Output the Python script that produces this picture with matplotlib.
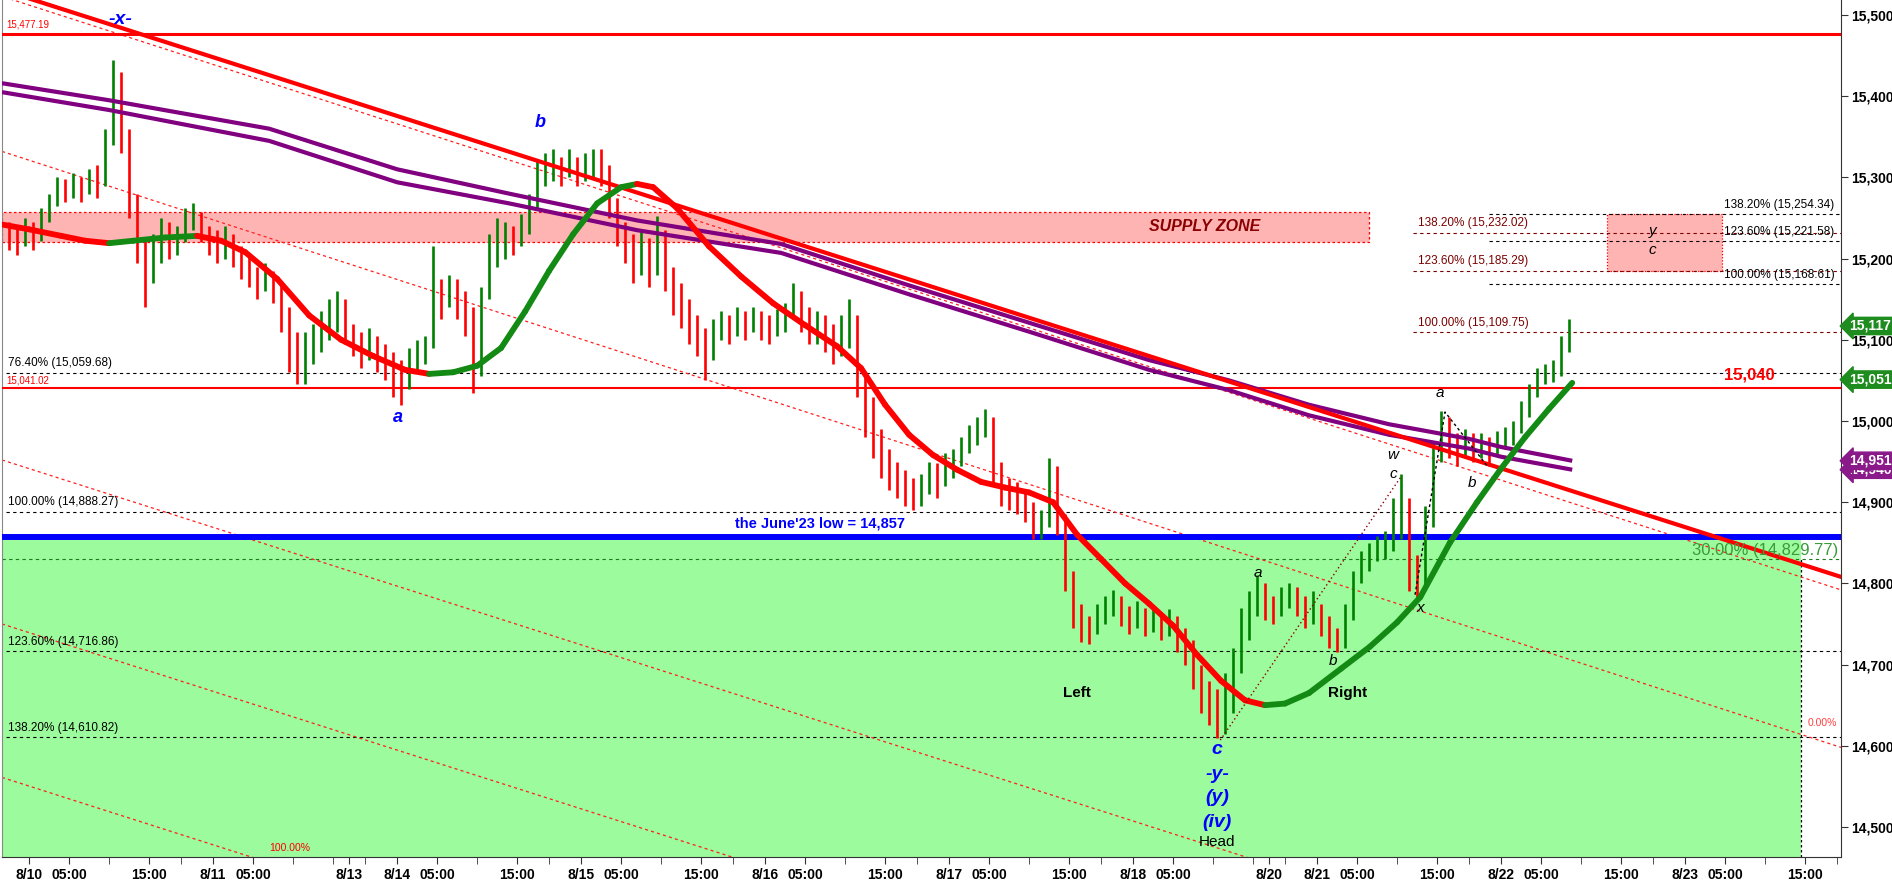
import matplotlib
matplotlib.use('Agg')
import matplotlib.pyplot as plt
import numpy as np
from matplotlib.transforms import blended_transform_factory
from matplotlib.patches import Rectangle

plt.rcParams['font.family'] = ['Liberation Sans', 'DejaVu Sans']

# ---------------- data ----------------
# hourly bars; x unit = trading hour, 0 = 8/10 00:00 (weekends removed)
bar_start = -3
closes = [
    15228, 15220, 15238, 15225, 15250, 15272, 15288, 15282, 15292, 15285,
    15300, 15295, 15345, 15405, 15350, 15270, 15215, 15175, 15205, 15235,
    15215, 15228, 15245, 15255, 15232, 15222, 15215, 15225, 15205, 15195,
    15180, 15170, 15178, 15160, 15130, 15090, 15070, 15085, 15100, 15110,
    15125, 15140, 15115, 15100, 15085, 15095, 15080, 15070, 15055, 15045,
    15070, 15080, 15090, 15160, 15150, 15165, 15145, 15130, 15060, 15150,
    15195, 15215, 15225, 15220, 15235, 15265, 15300, 15310, 15315, 15305,
    15318, 15300, 15315, 15320, 15310, 15270, 15235, 15215, 15195, 15215,
    15190, 15230, 15185, 15160, 15140, 15120, 15105, 15090, 15115, 15120,
    15110, 15125, 15115, 15128, 15120, 15110, 15125, 15130, 15150, 15130,
    15115, 15120, 15105, 15090, 15110, 15130, 15050, 15010, 14980, 14950,
    14940, 14925, 14915, 14905, 14920, 14935, 14930, 14945, 14950, 14965,
    14980, 14990, 15000, 14945, 14920, 14910, 14905, 14895, 14870, 14875,
    14940, 14880, 14810, 14770, 14745, 14740, 14760, 14770, 14780, 14765,
    14755, 14765, 14750, 14758, 14745, 14750, 14735, 14720, 14690, 14660,
    14640, 14625, 14660, 14700, 14740, 14770, 14790, 14775, 14765, 14780,
    14790, 14775, 14765, 14770, 14750, 14735, 14725, 14760, 14800, 14825,
    14835, 14845, 14850, 14880, 14910, 14820, 14800, 14880, 14960, 14995,
    14975, 14960, 14975, 14965, 14970, 14960, 14975, 14980, 14990, 15010,
    15035, 15055, 15060, 15065, 15090, 15115]
highs = [
    15245, 15240, 15250, 15245, 15262, 15280, 15300, 15298, 15305, 15300,
    15310, 15315, 15360, 15445, 15430, 15360, 15280, 15225, 15230, 15250,
    15245, 15240, 15262, 15268, 15258, 15240, 15235, 15240, 15230, 15215,
    15205, 15190, 15195, 15185, 15170, 15140, 15110, 15110, 15120, 15135,
    15150, 15160, 15150, 15120, 15110, 15115, 15105, 15095, 15085, 15075,
    15090, 15100, 15105, 15215, 15175, 15180, 15175, 15160, 15140, 15165,
    15230, 15250, 15245, 15240, 15255, 15280, 15320, 15330, 15335, 15325,
    15335, 15325, 15330, 15335, 15335, 15315, 15275, 15245, 15230, 15235,
    15225, 15252, 15235, 15190, 15170, 15150, 15130, 15115, 15125, 15135,
    15130, 15140, 15135, 15140, 15135, 15130, 15138, 15145, 15170, 15160,
    15140, 15135, 15130, 15120, 15130, 15150, 15130, 15060, 15030, 14990,
    14965, 14950, 14940, 14930, 14935, 14950, 14948, 14960, 14965, 14980,
    14995, 15005, 15015, 15005, 14950, 14930, 14925, 14915, 14900, 14890,
    14955, 14945, 14885, 14815, 14775, 14760, 14775, 14785, 14792, 14785,
    14772, 14778, 14770, 14772, 14765, 14768, 14760, 14745, 14730, 14700,
    14680, 14670, 14690, 14720, 14770, 14790, 14810, 14800, 14785, 14795,
    14800, 14795, 14785, 14790, 14775, 14760, 14745, 14775, 14815, 14840,
    14850, 14858, 14865, 14905, 14935, 14905, 14835, 14895, 14975, 15012,
    15005, 14985, 14990, 14985, 14985, 14980, 14988, 14992, 15000, 15025,
    15045, 15065, 15070, 15075, 15105, 15125]
lows = [
    15210, 15205, 15215, 15210, 15222, 15245, 15265, 15270, 15275, 15270,
    15280, 15275, 15290, 15340, 15330, 15250, 15195, 15140, 15170, 15195,
    15200, 15205, 15220, 15235, 15220, 15205, 15195, 15200, 15190, 15175,
    15165, 15150, 15160, 15145, 15110, 15060, 15045, 15045, 15070, 15085,
    15100, 15110, 15095, 15080, 15065, 15075, 15060, 15050, 15030, 15020,
    15040, 15060, 15070, 15090, 15125, 15140, 15125, 15105, 15035, 15055,
    15150, 15190, 15200, 15205, 15215, 15230, 15260, 15290, 15295, 15290,
    15300, 15290, 15295, 15300, 15290, 15250, 15215, 15195, 15170, 15180,
    15165, 15180, 15160, 15130, 15115, 15095, 15080, 15050, 15075, 15100,
    15095, 15105, 15100, 15110, 15100, 15095, 15105, 15110, 15125, 15110,
    15095, 15095, 15085, 15070, 15080, 15090, 15030, 14980, 14955, 14930,
    14915, 14905, 14895, 14890, 14895, 14910, 14905, 14920, 14930, 14945,
    14960, 14970, 14980, 14920, 14895, 14890, 14885, 14875, 14855, 14855,
    14870, 14860, 14790, 14745, 14728, 14725, 14738, 14750, 14760, 14748,
    14738, 14745, 14735, 14740, 14730, 14735, 14715, 14700, 14670, 14640,
    14625, 14610, 14615, 14640, 14690, 14730, 14760, 14755, 14750, 14760,
    14770, 14760, 14745, 14750, 14735, 14720, 14715, 14720, 14755, 14800,
    14815, 14828, 14830, 14840, 14855, 14790, 14780, 14795, 14870, 14950,
    14955, 14945, 14955, 14950, 14955, 14945, 14958, 14965, 14970, 14985,
    15005, 15030, 15045, 15048, 15055, 15085]
first_open = 15232

# moving average (green when rising, red when falling)
ma_t = [-3.4, 0, 4, 7, 10, 13, 17, 21, 24, 27, 31, 35, 39, 43, 47, 50, 53, 56, 59,
        62, 65, 68, 71, 74, 76, 78, 81, 85, 89, 93, 97, 101, 104, 107, 110, 113,
        116, 119, 122, 125, 128, 131, 134, 137, 140, 143, 146, 149, 152, 154.5,
        157, 160, 164, 167.6, 171, 173.9, 177.6, 181, 183.9, 187, 190, 192.9]
ma_v = [15242, 15236, 15228, 15222, 15219, 15222, 15226, 15228, 15222, 15208,
        15175, 15130, 15100, 15080, 15063, 15058, 15060, 15068, 15090, 15135,
        15185, 15230, 15268, 15288, 15292, 15288, 15262, 15215, 15178, 15145,
        15118, 15092, 15065, 15020, 14983, 14958, 14940, 14925, 14918, 14912,
        14900, 14860, 14830, 14800, 14775, 14748, 14712, 14680, 14656, 14650,
        14652, 14665, 14695, 14722, 14752, 14783, 14850, 14900, 14940, 14980,
        15015, 15047]

# two long moving averages (purple)
lma_t = [-3.4, 10, 30, 46, 60, 76, 94, 110, 125, 140, 150, 160, 170, 180, 184, 192.9]
lma1_v = [15416, 15395, 15360, 15310, 15280, 15247, 15218, 15167, 15121, 15075,
          15050, 15020, 14996, 14978, 14968, 14951]
lma2_v = [15405, 15383, 15345, 15294, 15268, 15235, 15207, 15156, 15110, 15063,
          15038, 15007, 14983, 14966, 14956, 14940]

# thick down trendline and parallel channel lines (values at left/right edge)
edge_t = [-3.4, 226.5]
trend_v = [15531, 14808]
channels = [[15523, 14792], [15332, 14598], [14952, 14229], [14750, 14027], [14561, 13838]]

# horizontal levels
high_level = 15477.19
mid_level = 15041.02
june_low = 14857
fib_left = [(15059.68, '76.40% (15,059.68)'), (14888.27, '100.00% (14,888.27)'),
            (14716.86, '123.60% (14,716.86)'), (14610.82, '138.20% (14,610.82)')]
fib_green = (14829.77, '30.00% (14,829.77)')
fib_maroon = [(15109.75, '100.00% (15,109.75)'), (15185.29, '123.60% (15,185.29)'),
              (15232.02, '138.20% (15,232.02)')]
fib_black = [(15168.61, '100.00% (15,168.61)'), (15221.58, '123.60% (15,221.58)'),
             (15254.34, '138.20% (15,254.34)')]
supply_zone = (15220, 15257)
target_box = (15185.29, 15254.34)

# wave paths
wave_maroon = [(148.9, 14607), (171.4, 14930)]
wave_black = [(173.25, 14786), (177.0, 15011), (182.4, 14943)]

# annotations
blue_labels = [('-x-', 11.4, 15494, 14), ('b', 63.9, 15368, 13), ('a', 46.1, 15004, 13),
               ('c', 148.5, 14595, 14), ('-y-', 148.5, 14564, 14),
               ('(y)', 148.5, 14536, 14), ('(iv)', 148.5, 14506, 14)]
black_small = [('a', 153.6, 14813), ('b', 163.0, 14704), ('w', 170.5, 14958),
               ('c', 170.5, 14935), ('x', 173.9, 14770), ('a', 176.4, 15034),
               ('b', 180.4, 14924), ('y', 202.9, 15234), ('c', 202.9, 15210)]
pattern_labels = [('Left', 131, 14665), ('Right', 164.8, 14665)]

# right axis value markers
last_markers = [(14940, '14,940', '#8a1a8a'), (14951, '14,951', '#8a1a8a'),
                (15051, '15,051', '#1e8c1e'), (15117, '15,117', '#1e8c1e')]

# x ticks
major_ticks = [0, 5, 15, 23, 28, 40, 46, 51, 61, 69, 74, 84, 92, 97, 107, 115, 120, 130,
               138, 143, 155, 161, 166, 176, 184, 189, 199, 207, 212, 222]
major_labels = ['8/10', '05:00', '15:00', '8/11', '05:00', '8/13', '8/14', '05:00', '15:00',
                '8/15', '05:00', '15:00', '8/16', '05:00', '15:00', '8/17', '05:00', '15:00',
                '8/18', '05:00', '8/20', '8/21', '05:00', '15:00', '8/22', '05:00', '15:00',
                '8/23', '05:00', '15:00']
minor_ticks = [10, 19, 33, 38, 42, 56, 65, 79, 88, 102, 111, 125, 134, 148, 153, 157,
               171, 180, 194, 203, 217, 226]

y_ticks = list(range(14500, 15501, 100))

# ---------------- figure ----------------
W, H = 1892, 883
fig = plt.figure(figsize=(W / 100, H / 100), dpi=100)
ax = fig.add_axes([2 / W, 26 / H, (1841 - 2) / W, 857 / H])
XMIN, XMAX = -3.4, 226.5
YMIN, YMAX = 14463, 15518.5
ax.set_xlim(XMIN, XMAX)
ax.set_ylim(YMIN, YMAX)

# zones
ax.add_patch(Rectangle((XMIN, YMIN), 221.5 - XMIN, june_low - YMIN,
                       facecolor='#9cfb9c', edgecolor='none', zorder=0))
ax.add_patch(Rectangle((XMIN, supply_zone[0]), 167.5 - XMIN, supply_zone[1] - supply_zone[0],
                       facecolor='#ffb4b4', edgecolor='#ff0000', linestyle=(0, (2, 2)),
                       linewidth=0.9, zorder=1))
ax.add_patch(Rectangle((197.2, target_box[0]), 211.6 - 197.2, target_box[1] - target_box[0],
                       facecolor='#ffb4b4', edgecolor='#ff0000', linestyle=(0, (1, 1.5)),
                       linewidth=0.9, zorder=1))
ax.plot([221.5, 221.5], [YMIN, 14830], color='black', linestyle=(0, (2, 2)), lw=0.9, zorder=2)

# horizontal levels
for lvl, lab in fib_left:
    ax.axhline(lvl, xmin=0.002, color='black', linestyle=(0, (3, 3)), lw=0.8, zorder=2)
    ax.text(-2.7, lvl + 4, lab, fontsize=8.5, color='black', ha='left', va='bottom', zorder=7)
ax.axhline(fib_green[0], color='#1e7a1e', linestyle=(0, (3, 3)), lw=0.8, zorder=2)
ax.text(226.2, fib_green[0] + 1, fib_green[1], fontsize=12, color='#3a9a3a', ha='right',
        va='bottom', zorder=7)
for lvl, lab in fib_maroon:
    ax.plot([173, XMAX], [lvl, lvl], color='#7a0000', linestyle=(0, (3, 3)), lw=0.8, zorder=2)
    ax.text(173.6, lvl + 4, lab, fontsize=8.5, color='#7a0000', ha='left', va='bottom', zorder=7)
for lvl, lab in fib_black:
    ax.plot([182.5, XMAX], [lvl, lvl], color='black', linestyle=(0, (3, 3)), lw=0.8, zorder=2)
    ax.text(211.9, lvl + 4, lab, fontsize=8.5, color='black', ha='left', va='bottom', zorder=7)

ax.axhline(high_level, color='#ff0000', lw=2.2, zorder=3)
ax.text(-2.8, high_level + 5, '15,477.19', fontsize=7, color='#ff0000', ha='left', va='bottom')
ax.axhline(mid_level, color='#ff0000', lw=1.5, zorder=3)
ax.text(-2.8, mid_level + 3, '15,041.02', fontsize=7, color='#ff0000', ha='left', va='bottom')
ax.text(215.0, mid_level + 6, '15,040', fontsize=12, color='#ff0000', fontweight='bold',
        ha='center', va='bottom', zorder=7)
ax.axhline(june_low, color='#0000ff', lw=4.3, zorder=3)
ax.text(98.8, june_low + 8, "the June'23 low = 14,857", fontsize=10.5, color='#0000ff',
        fontweight='bold', ha='center', va='bottom', zorder=7)

# channel lines
for a, b in channels:
    ax.plot(edge_t, [a, b], color='#ff2020', linestyle=(0, (2.5, 2.5)), lw=0.9, zorder=2)
ax.text(32.6, 14468, '100.00%', fontsize=7.5, color='#ff0000', ha='center', va='bottom')
ax.text(224.2, 14622, '0.00%', fontsize=7.5, color='#ff4040', ha='center', va='bottom')

# bars
t = np.arange(len(closes)) + bar_start + 0.5
c = np.array(closes, float)
o = np.concatenate([[first_open], c[:-1]])
up = c >= o
ax.vlines(t[up], np.array(lows)[up], np.array(highs)[up], color='#008000', lw=1.9, zorder=4)
ax.vlines(t[~up], np.array(lows)[~up], np.array(highs)[~up], color='#ff0000', lw=1.9, zorder=4)

# long moving averages
ax.plot(lma_t, lma1_v, color='#800080', lw=3, zorder=5, solid_capstyle='butt')
ax.plot(lma_t, lma2_v, color='#800080', lw=3, zorder=5, solid_capstyle='butt')

# trendline
ax.plot(edge_t, trend_v, color='#ff0000', lw=3, zorder=5)

# moving average colored by slope
for i in range(len(ma_t) - 1):
    col = '#138a13' if ma_v[i + 1] >= ma_v[i] else '#ff0000'
    ax.plot(ma_t[i:i + 2], ma_v[i:i + 2], color=col, lw=4.2, zorder=6, solid_capstyle='round')

# wave lines
ax.plot([p[0] for p in wave_maroon], [p[1] for p in wave_maroon], color='#8b0000',
        linestyle=(0, (1, 2)), lw=1.0, zorder=6)
ax.plot([p[0] for p in wave_black], [p[1] for p in wave_black], color='black',
        linestyle=(0, (2, 2)), lw=1.0, zorder=6)

# annotations
for s, x, y, fs in blue_labels:
    ax.text(x, y, s, fontsize=fs, color='#0000ff', fontweight='bold', style='italic',
            ha='center', va='center', zorder=8)
for s, x, y in black_small:
    ax.text(x, y, s, fontsize=11, color='black', style='italic', ha='center', va='center', zorder=8)
for s, x, y in pattern_labels:
    ax.text(x, y, s, fontsize=11, color='black', fontweight='bold', ha='center', va='center', zorder=8)
ax.text(148.5, 14482, 'Head', fontsize=11, color='black', ha='center', va='center', zorder=8)
ax.text(147, 15239, 'SUPPLY ZONE', fontsize=11.5, color='#8b0000', fontweight='bold',
        style='italic', ha='center', va='center', zorder=8)

# axes styling
ax.spines['top'].set_visible(False)
ax.spines['left'].set_color('#888888')
ax.spines['left'].set_linewidth(0.8)
ax.spines['right'].set_color('#333333')
ax.spines['bottom'].set_color('#333333')
ax.yaxis.tick_right()
ax.set_yticks(y_ticks)
ax.set_yticklabels([f'{v:,}' for v in y_ticks], fontsize=10, fontweight='bold')
ax.set_xticks(major_ticks)
ax.set_xticklabels(major_labels, fontsize=10, fontweight='bold')
ax.set_xticks(minor_ticks, minor=True)
ax.tick_params(axis='x', which='both', length=5, direction='out', pad=3, color='#333333')
ax.tick_params(axis='y', length=5, direction='out', pad=2, color='#333333')

trans = blended_transform_factory(ax.transAxes, ax.transData)
for v, lab, col in last_markers:
    ax.text(1.0045, v, lab, transform=trans, fontsize=10, fontweight='bold', color='white',
            ha='left', va='center', zorder=10, clip_on=False,
            bbox=dict(boxstyle='larrow,pad=0.12', facecolor=col, edgecolor=col))

fig.savefig('out.png', dpi=100, facecolor='white')
